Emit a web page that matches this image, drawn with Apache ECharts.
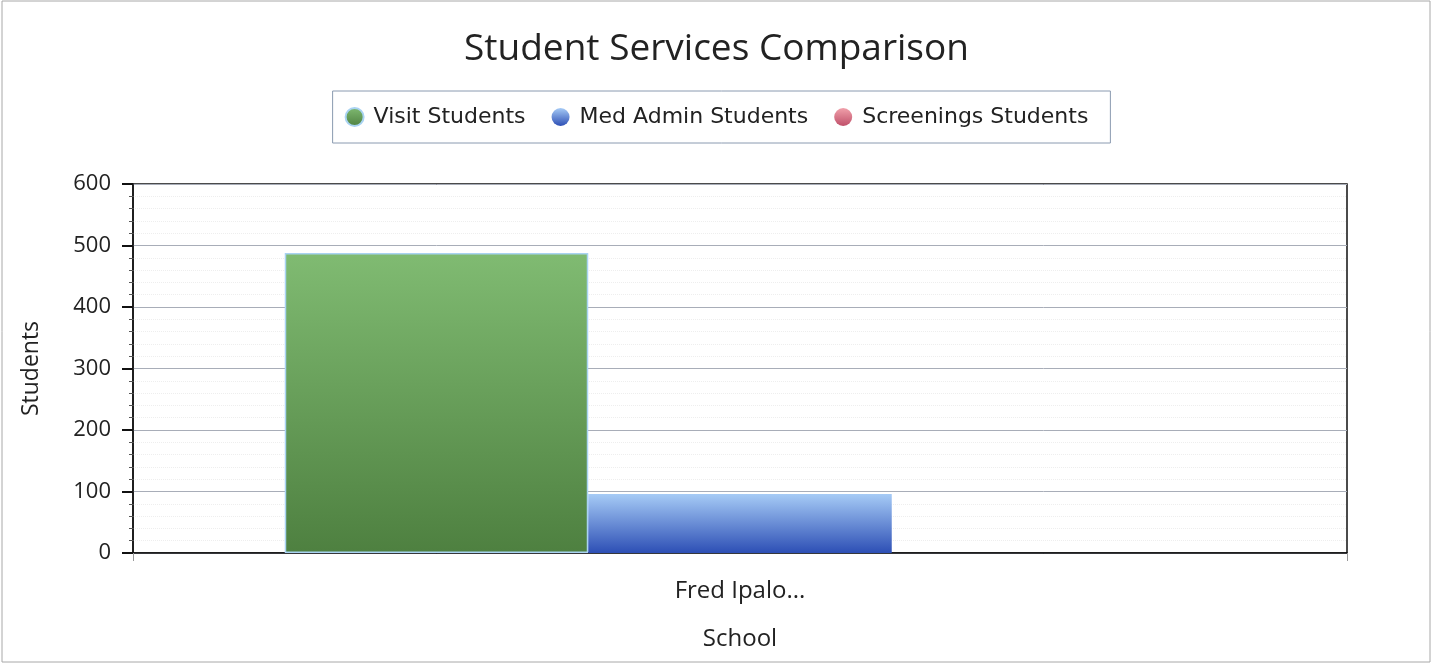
<!DOCTYPE html>
<html><head><meta charset="utf-8">
<script src="https://cdn.jsdelivr.net/npm/echarts@6/dist/echarts.min.js"></script>
<style>html,body{margin:0;padding:0;background:#fff}#c{width:1433px;height:666px}</style>
</head><body><div id="c"></div>
<script>
const categories = ['Fred Ipalo...'];
const seriesNames = ['Visit Students', 'Med Admin Students', 'Screenings Students'];
const visitStudents = [488];
const medAdminStudents = [96];
const screeningsStudents = [0];
const yTicks = [0, 100, 200, 300, 400, 500, 600];

const font = '"Open Sans", "Noto Sans", sans-serif';
const legendFont = '"DejaVu Sans", Verdana, sans-serif';
function grad(top, bottom) {
  return new echarts.graphic.LinearGradient(0, 0, 0, 1, [{offset: 0, color: top}, {offset: 1, color: bottom}]);
}
const chart = echarts.init(document.getElementById('c'));
chart.setOption({
  backgroundColor: '#fff',
  animation: false,
  graphic: [{type: 'rect', shape: {x: 2, y: 1, width: 1428, height: 661}, style: {fill: 'none', stroke: '#a8a8a8', lineWidth: 1}}],
  title: {text: 'Student Services Comparison', left: 'center', top: 26,
    textStyle: {fontFamily: font, fontSize: 37, fontWeight: 'normal', color: '#222'}},
  legend: {top: 91, left: 'center', itemGap: 26, itemWidth: 18, itemHeight: 18, icon: 'circle',
    padding: [15, 22, 15, 12], borderColor: '#8a9ab0', borderWidth: 1,
    textStyle: {fontFamily: legendFont, fontSize: 22, color: '#222', padding: [0, 0, 0, 5]}, data: seriesNames},
  grid: {left: 133, right: 86, top: 184, bottom: 113, show: true, borderColor: '#111', borderWidth: 1.5, containLabel: false},
  xAxis: {type: 'category', data: categories, name: 'School', nameLocation: 'middle', nameGap: 74,
    nameTextStyle: {fontFamily: font, fontSize: 24, color: '#222'},
    axisLine: {lineStyle: {color: '#111', width: 1.5}}, axisTick: {show: true, length: 8, lineStyle: {color: '#999'}},
    axisLabel: {fontFamily: font, fontSize: 24, color: '#222', margin: 26}},
  yAxis: {type: 'value', min: yTicks[0], max: yTicks[yTicks.length - 1], interval: 100,
    name: 'Students', nameLocation: 'middle', nameGap: 90,
    nameTextStyle: {fontFamily: font, fontSize: 23, color: '#222'},
    axisLine: {show: true, lineStyle: {color: '#111', width: 1.5}},
    axisTick: {show: true, length: 11, lineStyle: {color: '#111', width: 2}},
    minorTick: {show: true, splitNumber: 5, length: 4, lineStyle: {color: '#555'}},
    minorSplitLine: {show: true, lineStyle: {color: '#eeeeee', type: 'dotted'}},
    splitLine: {show: true, lineStyle: {color: '#a8adb8', width: 1}},
    axisLabel: {fontFamily: font, fontSize: 22, color: '#222', margin: 22}},
  series: [
    {name: seriesNames[0], type: 'bar', data: visitStudents, barWidth: '25%', barGap: '0%',
      itemStyle: {color: grad('#80bb72', '#4e8040'), borderColor: '#a9d3f2', borderWidth: 1.5}},
    {name: seriesNames[1], type: 'bar', data: medAdminStudents, barWidth: '25%', barGap: '0%',
      itemStyle: {color: grad('#a6cbf6', '#2d4fb5')}},
    {name: seriesNames[2], type: 'bar', data: screeningsStudents, barWidth: '25%', barGap: '0%',
      itemStyle: {color: grad('#f0a0aa', '#c0506a')}}
  ]
});
</script></body></html>
